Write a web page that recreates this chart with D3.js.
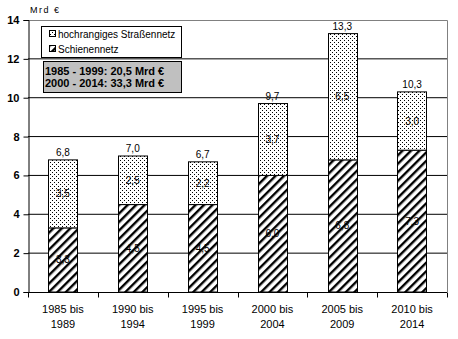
<!DOCTYPE html>
<html><head><meta charset="utf-8">
<script src="https://cdn.jsdelivr.net/npm/d3@7"></script>
<style>body{margin:0;background:#fff}svg{display:block}text{font-family:"Liberation Sans",Arial,sans-serif}</style>
</head><body><svg id="c" width="458" height="339"></svg>
<script>
const categories = [["1985 bis","1989"],["1990 bis","1994"],["1995 bis","1999"],["2000 bis","2004"],["2005 bis","2009"],["2010 bis","2014"]];
const schiene = [3.3, 4.5, 4.5, 6.0, 6.8, 7.3];
const strasse = [3.5, 2.5, 2.2, 3.7, 6.5, 3.0];
const totals = [6.8, 7.0, 6.7, 9.7, 13.3, 10.3];
const yTicks = [0, 2, 4, 6, 8, 10, 12, 14];
const seriesNames = ["hochrangiges Straßennetz", "Schienennetz"];
const summary = ["1985 - 1999: 20,5 Mrd €", "2000 - 2014: 33,3 Mrd €"];
const fmt = v => d3.format(".1f")(v).replace(".", ",");

const svg = d3.select("#c");
const L = 28, R = 447, T = 20, B = 292;
const x = d3.scaleBand().domain(d3.range(categories.length)).range([L, R]).paddingInner(0.58).paddingOuter(0.29);
const y = d3.scaleLinear().domain([0, 14]).range([B, T]);

const defs = svg.append("defs");
const dots = defs.append("pattern").attr("id","dots").attr("patternUnits","userSpaceOnUse").attr("width",4).attr("height",4);
dots.append("rect").attr("width",4).attr("height",4).attr("fill","#fff");
dots.append("rect").attr("x",0).attr("y",0).attr("width",1).attr("height",1).attr("fill","#000");
dots.append("rect").attr("x",2).attr("y",2).attr("width",1).attr("height",1).attr("fill","#000");
const hatch = defs.append("pattern").attr("id","hatch").attr("patternUnits","userSpaceOnUse").attr("width",6).attr("height",6).attr("patternTransform","rotate(45)");
hatch.append("rect").attr("width",6).attr("height",6).attr("fill","#fff");
hatch.append("rect").attr("x",0).attr("y",0).attr("width",2.4).attr("height",6).attr("fill","#000");

// gridlines
svg.append("g").selectAll("line").data(yTicks.filter(t => t > 0 && t < 14)).join("line")
  .attr("x1", L).attr("x2", R).attr("y1", d => y(d)).attr("y2", d => y(d)).attr("stroke","#000").attr("stroke-width",1);
// border top/right
svg.append("path").attr("d", `M${L},${T+0.5}H${R+0.5}V${B}`).attr("fill","none").attr("stroke","#808080").attr("stroke-width",1);

// y axis
const yAxis = d3.axisLeft(y).tickValues(yTicks).tickSize(5).tickPadding(4).tickFormat(d3.format("d"));
const ga = svg.append("g").attr("transform", `translate(${L+0.5},0)`).call(yAxis);
ga.select(".domain").attr("stroke","#000");
ga.selectAll(".tick line").attr("stroke","#000");
ga.selectAll("text").attr("font-size", 11).attr("font-weight","bold").attr("fill","#000");

// x axis
const gx = svg.append("g").attr("transform", `translate(0,${B+0.5})`);
gx.append("line").attr("x1", L).attr("x2", R).attr("stroke","#000");
const step = x.step();
const bounds = d3.range(categories.length + 1).map(i => L + i * (R - L) / categories.length);
gx.selectAll("line.t").data(bounds).join("line").attr("class","t")
  .attr("x1", d => Math.round(d)+0.5).attr("x2", d => Math.round(d)+0.5).attr("y1",0).attr("y2",5).attr("stroke","#000");
categories.forEach((c, i) => {
  const t = svg.append("text").attr("text-anchor","middle").attr("font-size",11).attr("fill","#000");
  t.append("tspan").attr("x", x(i) + x.bandwidth()/2).attr("y", 313).text(c[0]);
  t.append("tspan").attr("x", x(i) + x.bandwidth()/2).attr("y", 328).text(c[1]);
});

// bars
const bars = svg.append("g");
categories.forEach((c, i) => {
  const x0 = Math.round(x(i)) + 0.5, w = Math.round(x.bandwidth());
  bars.append("rect").attr("x", x0).attr("y", y(schiene[i])).attr("width", w).attr("height", y(0) - y(schiene[i]))
    .attr("fill","url(#hatch)").attr("stroke","#000").attr("stroke-width",1);
  bars.append("rect").attr("x", x0).attr("y", y(schiene[i] + strasse[i])).attr("width", w).attr("height", y(schiene[i]) - y(schiene[i] + strasse[i]))
    .attr("fill","url(#dots)").attr("stroke","#000").attr("stroke-width",1);
  const cx = x(i) + x.bandwidth()/2;
  svg.append("text").attr("x", cx).attr("y", y(schiene[i]/2) + 3.5).attr("text-anchor","middle").attr("font-size",10).attr("fill","#000").text(fmt(schiene[i]));
  svg.append("text").attr("x", cx).attr("y", y(schiene[i] + strasse[i]/2) + 3.5).attr("text-anchor","middle").attr("font-size",10).attr("fill","#000").text(fmt(strasse[i]));
  svg.append("text").attr("x", cx).attr("y", y(totals[i]) - 4).attr("text-anchor","middle").attr("font-size",10).attr("fill","#000").text(fmt(totals[i]));
});

// unit label
svg.append("text").attr("x", 30).attr("y", 13).attr("font-size", 9).attr("letter-spacing", 1.5).attr("fill","#000").text("Mrd €");

// legend
const lg = svg.append("g");
lg.append("rect").attr("x", 41.5).attr("y", 26.5).attr("width", 140).attr("height", 31).attr("fill","#fff").attr("stroke","#000");
[["url(#dots)", seriesNames[0], 34], ["url(#hatch)", seriesNames[1], 49]].forEach(([f, n, cy]) => {
  lg.append("rect").attr("x", 49.5).attr("y", cy - 3.5).attr("width", 6).attr("height", 6).attr("fill", f).attr("stroke","#000");
  lg.append("text").attr("x", 58).attr("y", cy + 3.5).attr("font-size", 10).attr("fill","#000").text(n);
});

// summary box
const sb = svg.append("g");
sb.append("rect").attr("x", 43.5).attr("y", 61.5).attr("width", 138).attr("height", 31).attr("fill","#c0c0c0").attr("stroke","#000");
summary.forEach((s, i) => {
  sb.append("text").attr("x", 45).attr("y", 75 + i * 12).attr("font-size", 11).attr("font-weight","bold").attr("fill","#000").text(s);
});
</script></body></html>
